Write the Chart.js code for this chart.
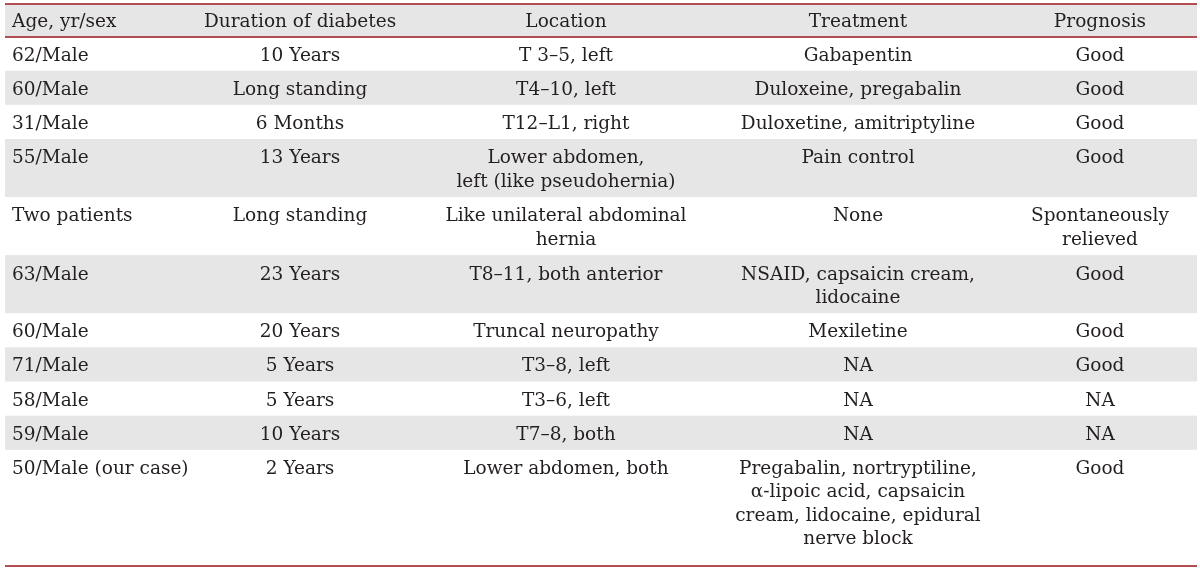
<!DOCTYPE html>
<html>
<head>
<meta charset="utf-8">
<script src="https://cdn.jsdelivr.net/npm/chart.js@4.4.1/dist/chart.umd.min.js"></script>
<style>
html,body{margin:0;padding:0;background:#ffffff;}
#wrap{width:1200px;height:572px;}
</style>
</head>
<body>
<div id="wrap"><canvas id="c" width="1200" height="572"></canvas></div>
<script>
// ---- table content ----
const headers = ["Age, yr/sex", "Duration of diabetes", "Location", "Treatment", "Prognosis"];
const ageSex = ["62/Male", "60/Male", "31/Male", "55/Male", "Two patients", "63/Male", "60/Male", "71/Male", "58/Male", "59/Male", "50/Male (our case)"];
const duration = ["10 Years", "Long standing", "6 Months", "13 Years", "Long standing", "23 Years", "20 Years", "5 Years", "5 Years", "10 Years", "2 Years"];
const site = ["T 3\u20135, left", "T4\u201310, left", "T12\u2013L1, right", "Lower abdomen,\nleft (like pseudohernia)", "Like unilateral abdominal\nhernia", "T8\u201311, both anterior", "Truncal neuropathy", "T3\u20138, left", "T3\u20136, left", "T7\u20138, both", "Lower abdomen, both"];
const treatment = ["Gabapentin", "Duloxeine, pregabalin", "Duloxetine, amitriptyline", "Pain control", "None", "NSAID, capsaicin cream,\nlidocaine", "Mexiletine", "NA", "NA", "NA", "Pregabalin, nortryptiline,\n\u03b1-lipoic acid, capsaicin\ncream, lidocaine, epidural\nnerve block"];
const prognosis = ["Good", "Good", "Good", "Good", "Spontaneously\nrelieved", "Good", "Good", "Good", "NA", "NA", "Good"];

const columns = [ageSex, duration, site, treatment, prognosis];

// ---- layout (styles, not data) ----
const colX = [0.0059, 0.2475, 0.4706, 0.7156, 0.9186];
const colAlign = ["left", "center", "center", "center", "center"];
const FONT = '18.5px "DejaVu Serif"';
const TEXT_COLOR = "#231f20";
const BAND_COLOR = "#e6e6e6";
const RULE_COLOR = "#b04e52";
const HEADER_H = 1.4, SINGLE_H = 1.47, BOTTOM_PAD = 0.5;

// derive row geometry (in line units) from the text
const nRows = ageSex.length;
const rowLines = [];
for (let r = 0; r < nRows; r++) {
  rowLines.push(Math.max(...columns.map(c => c[r].split("\n").length)));
}
const rowTop = [], rowH = [];
let acc = HEADER_H;
for (let r = 0; r < nRows; r++) {
  const h = rowLines[r] === 1 ? SINGLE_H : rowLines[r] + 0.5;
  rowTop.push(acc); rowH.push(h); acc += h;
}
const tableEnd = acc + BOTTOM_PAD;

// build datasets: one per column, header + body cells
const datasets = columns.map((col, ci) => {
  const pts = [{x: colX[ci], y: HEADER_H / 2, text: headers[ci]}];
  col.forEach((txt, r) => {
    pts.push({x: colX[ci], y: rowTop[r] + (rowH[r] - rowLines[r]) / 2 + 0.5, text: txt});
  });
  return {label: headers[ci], data: pts, pointRadius: 0, pointHoverRadius: 0, showLine: false};
});

const tablePlugin = {
  id: "tablePlugin",
  beforeDatasetsDraw(chart) {
    const {ctx, chartArea, scales} = chart;
    const y = scales.y;
    ctx.save();
    ctx.fillStyle = BAND_COLOR;
    ctx.fillRect(chartArea.left, y.getPixelForValue(0), chartArea.right - chartArea.left, y.getPixelForValue(HEADER_H) - y.getPixelForValue(0));
    for (let r = 0; r < nRows; r++) {
      if (r % 2 === 1) {
        const t = y.getPixelForValue(rowTop[r]);
        const b = y.getPixelForValue(rowTop[r] + rowH[r]);
        ctx.fillRect(chartArea.left, t, chartArea.right - chartArea.left, b - t);
      }
    }
    ctx.strokeStyle = RULE_COLOR;
    ctx.lineWidth = 2;
    [0, HEADER_H, tableEnd].forEach(v => {
      const py = Math.round(y.getPixelForValue(v));
      ctx.beginPath();
      ctx.moveTo(chartArea.left, py);
      ctx.lineTo(chartArea.right, py);
      ctx.stroke();
    });
    ctx.restore();
  },
  afterDatasetsDraw(chart) {
    const {ctx, scales} = chart;
    const y = scales.y;
    const unit = Math.abs(y.getPixelForValue(1) - y.getPixelForValue(0));
    ctx.save();
    ctx.font = FONT;
    ctx.fillStyle = TEXT_COLOR;
    ctx.textBaseline = "alphabetic";
    chart.data.datasets.forEach((ds, di) => {
      const meta = chart.getDatasetMeta(di);
      ctx.textAlign = colAlign[di];
      meta.data.forEach((el, i) => {
        const lines = ds.data[i].text.split("\n");
        lines.forEach((ln, k) => {
          ctx.fillText(ln, el.x, el.y + k * unit + 7);
        });
      });
    });
    ctx.restore();
  }
};

new Chart(document.getElementById("c"), {
  type: "scatter",
  data: {datasets},
  options: {
    responsive: false,
    animation: false,
    events: [],
    layout: {padding: {left: 5, right: 3, top: 4, bottom: 6}},
    plugins: {legend: {display: false}, tooltip: {enabled: false}, title: {display: false}},
    scales: {
      x: {type: "linear", min: 0, max: 1, display: false},
      y: {type: "linear", min: 0, max: tableEnd, reverse: true, display: false}
    }
  },
  plugins: [tablePlugin]
});
</script>
</body>
</html>
